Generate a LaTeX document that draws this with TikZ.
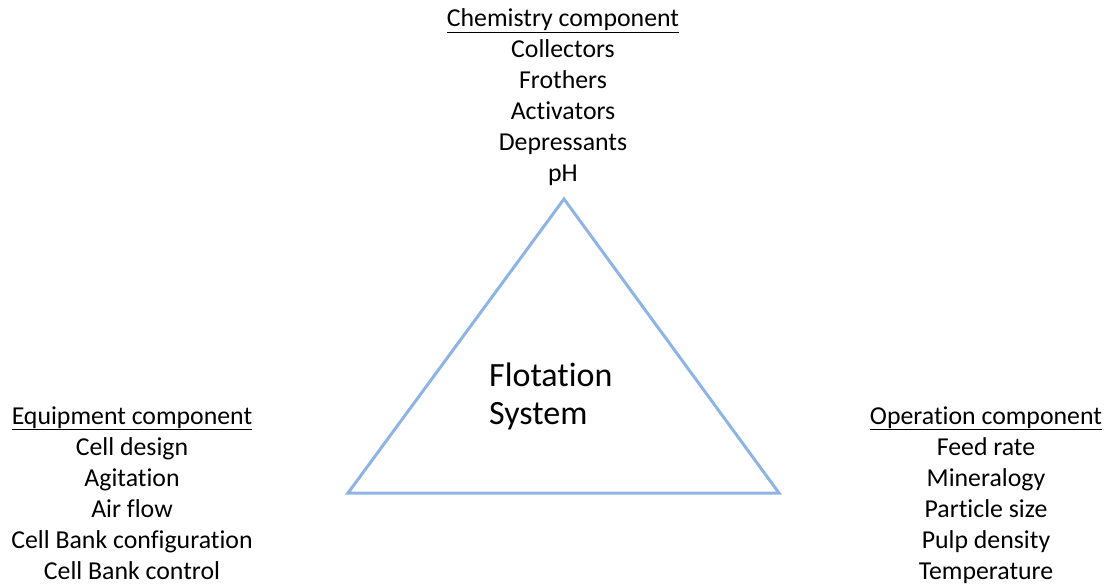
\documentclass[tikz,border=0pt]{standalone}
\usepackage{fontspec}
\setmainfont{Carlito}[Ligatures=NoCommon]
\definecolor{tri}{RGB}{142,180,227}
\begin{document}
\begin{tikzpicture}[x=1bp,y=-1bp,
  lbl/.style={anchor=base,inner sep=0pt,font=\fontsize{25.8bp}{30bp}\selectfont},
  big/.style={anchor=base west,inner sep=0pt,font=\fontsize{34bp}{40bp}\selectfont},
  triline/.style={draw=tri,line width=3bp,line join=miter}]
\useasboundingbox (0,0) rectangle (1107,587);
% triangle
\coordinate (A) at (564,199);
\coordinate (B) at (348,493);
\coordinate (C) at (779,493);
\draw[triline] (A) -- (B) -- (C) -- cycle;
\node[big] (f1) at (489,386) {Flotation};
\node[big] (f2) at (489,424) {System};
% chemistry
\node[lbl] (c0) at (563,27) {\underline{Chemistry component}};
\node[lbl] (c1) at (563,58) {Collectors};
\node[lbl] (c2) at (563,89) {Frothers};
\node[lbl] (c3) at (563,120) {Activators};
\node[lbl] (c4) at (563,151) {Depressants};
\node[lbl] (c5) at (563,182) {pH};
% equipment
\node[lbl] (e0) at (132,424) {\underline{Equipment component}};
\node[lbl] (e1) at (132,455) {Cell design};
\node[lbl] (e2) at (132,486) {Agitation};
\node[lbl] (e3) at (132,517) {Air flow};
\node[lbl] (e4) at (132,548) {Cell Bank configuration};
\node[lbl] (e5) at (132,579) {Cell Bank control};
% operation
\node[lbl] (o0) at (986,424) {\underline{Operation component}};
\node[lbl] (o1) at (986,455) {Feed rate};
\node[lbl] (o2) at (986,486) {Mineralogy};
\node[lbl] (o3) at (986,517) {Particle size};
\node[lbl] (o4) at (986,548) {Pulp density};
\node[lbl] (o5) at (986,579) {Temperature};
\end{tikzpicture}
\end{document}
